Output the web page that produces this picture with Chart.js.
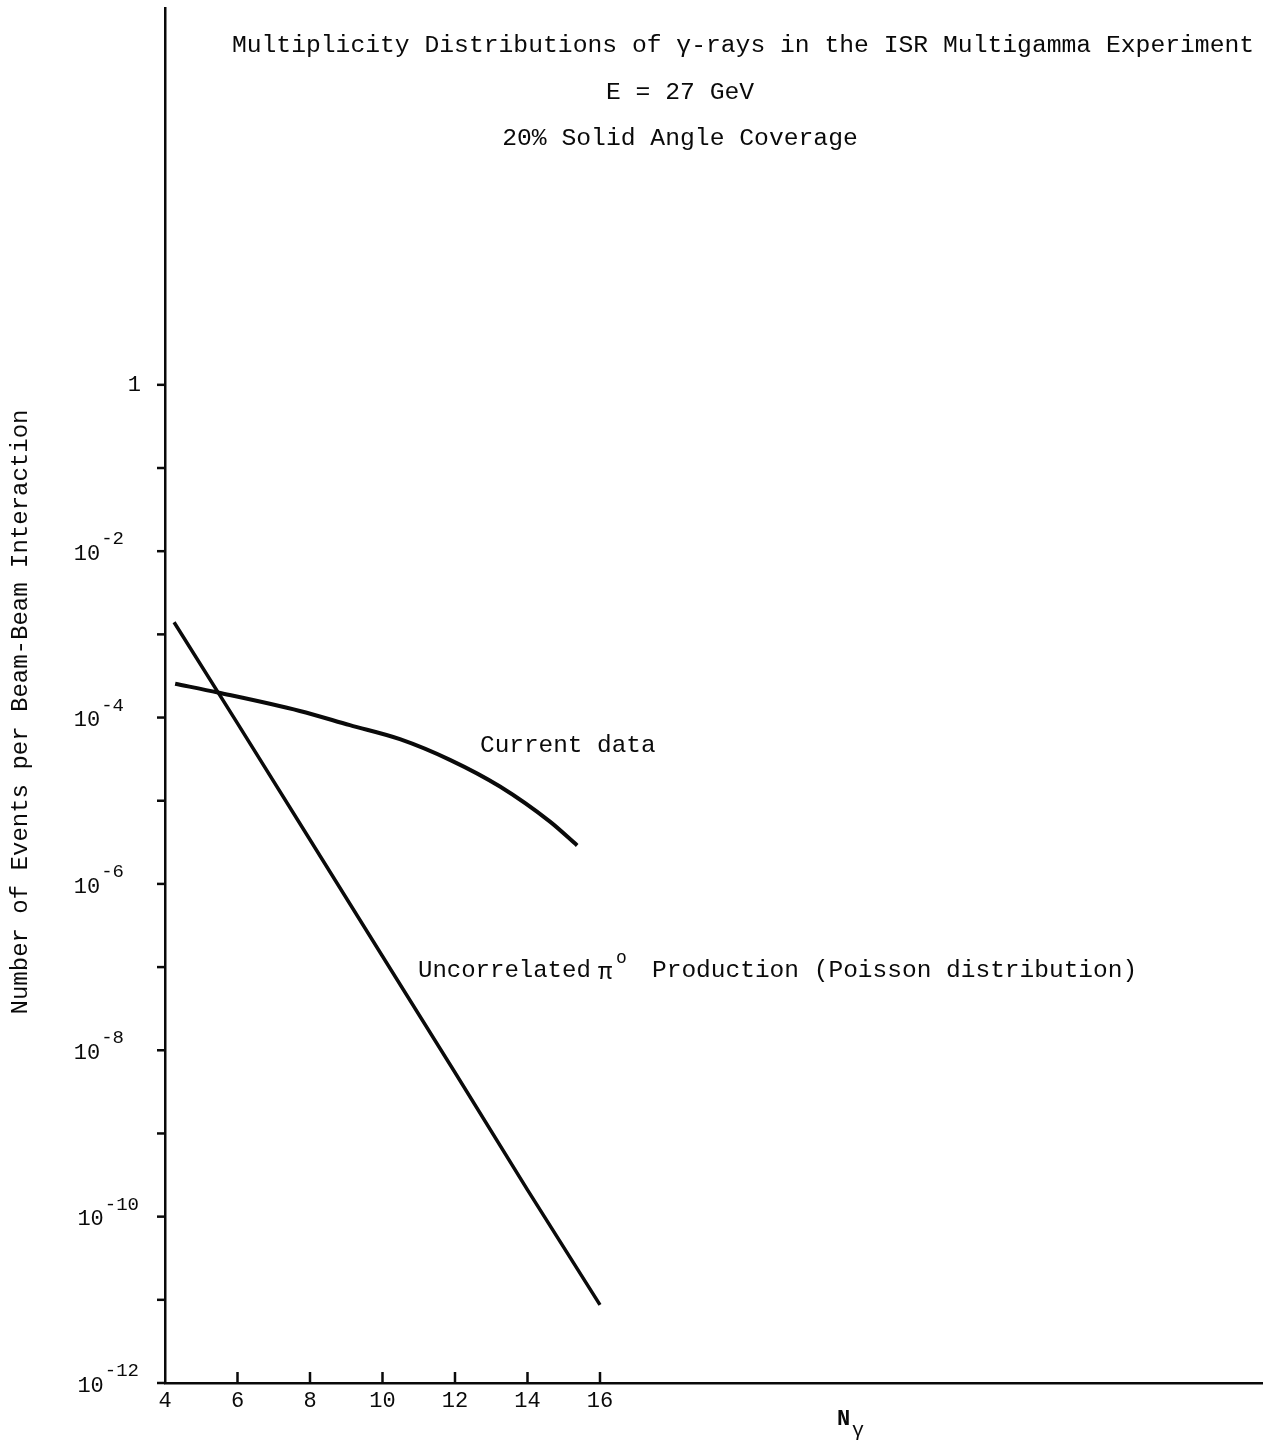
<!DOCTYPE html>
<html>
<head>
<meta charset="utf-8">
<script src="https://cdn.jsdelivr.net/npm/chart.js@4/dist/chart.umd.min.js"></script>
<style>
  body { margin: 0; background: #fff; }
  #wrap { position: relative; width: 1263px; height: 1442px; }
</style>
</head>
<body>
<div id="wrap"><canvas id="grafico"></canvas></div>
<script>
// datos
var currentN = [4.28, 5.46, 7.72, 9.10, 10.48, 11.86, 13.24, 14.62, 15.37];
var currentVal = [2.55e-4, 2.0e-4, 1.2e-4, 8.1e-5, 5.5e-5, 3.1e-5, 1.48e-5, 5.6e-6, 2.9e-6];

var poissonN = [4.25, 6, 8, 10, 12, 14, 16];
var poissonVal = [1.4e-3, 8.5e-5, 3.4e-6, 1.35e-7, 5.4e-9, 2.1e-10, 8.7e-12];

var xTicks = [4, 6, 8, 10, 12, 14, 16];
var yMajorExp = [0, -2, -4, -6, -8, -10, -12];
var yMinorExp = [-1, -3, -5, -7, -9, -11];

var titleLines = [
  "Multiplicity Distributions of \u03b3-rays in the ISR Multigamma Experiment",
  "E = 27 GeV",
  "20% Solid Angle Coverage"
];

var MONO = '"Liberation Mono", "DejaVu Sans Mono", monospace';
var INK = '#0a0a0a';

function pares(xs, ys) {
  var out = [];
  for (var i = 0; i < xs.length; i++) out.push({x: xs[i], y: ys[i]});
  return out;
}

// textos y marcas de los ejes
var textos = {
  id: 'textos',
  afterDraw: function(chart) {
    var ctx = chart.ctx;
    var xs = chart.scales.x, ys = chart.scales.y;
    var area = chart.chartArea;
    ctx.save();
    ctx.strokeStyle = INK;
    ctx.fillStyle = INK;
    ctx.lineWidth = 2.5;

    // marcas eje y (hacia fuera)
    yMajorExp.concat(yMinorExp).forEach(function(e) {
      var py = ys.getPixelForValue(Math.pow(10, e));
      ctx.beginPath();
      ctx.moveTo(area.left - 8, py);
      ctx.lineTo(area.left, py);
      ctx.stroke();
    });
    // marcas eje x (hacia dentro)
    xTicks.forEach(function(v) {
      if (v === 4) return;
      var px = xs.getPixelForValue(v);
      ctx.beginPath();
      ctx.moveTo(px, area.bottom);
      ctx.lineTo(px, area.bottom - 11);
      ctx.stroke();
    });

    // etiquetas eje y
    ctx.textBaseline = 'middle';
    yMajorExp.forEach(function(e) {
      var py = ys.getPixelForValue(Math.pow(10, e));
      if (e === 0) {
        ctx.font = '22px ' + MONO;
        ctx.textAlign = 'right';
        ctx.fillText('1', 141, py);
        return;
      }
      var exp = '-' + (-e);
      ctx.font = '19px ' + MONO;
      var wExp = ctx.measureText(exp).width;
      var right = exp.length > 2 ? 139 : 124;
      ctx.textAlign = 'left';
      ctx.fillText(exp, right - wExp, py - 12);
      ctx.font = '22px ' + MONO;
      ctx.textAlign = 'right';
      ctx.fillText('10', right - wExp - 1, py + 3);
    });

    // titulo
    ctx.font = '24.7px ' + MONO;
    ctx.textAlign = 'center';
    ctx.fillText(titleLines[0], 743, 45);
    ctx.fillText(titleLines[1], 680, 92);
    ctx.fillText(titleLines[2], 680, 138);

    // etiquetas de curvas
    ctx.textAlign = 'left';
    ctx.font = '24.4px ' + MONO;
    ctx.fillText('Current data', 480, 746);
    ctx.font = '24px ' + MONO;
    ctx.fillText('Uncorrelated', 418, 971);
    ctx.fillText('\u03c0', 598, 973);
    ctx.font = '18px ' + MONO;
    ctx.fillText('o', 616, 958);
    ctx.font = '24.5px ' + MONO;
    ctx.fillText('Production (Poisson distribution)', 652, 971);

    // titulo eje y
    ctx.save();
    ctx.translate(21, 712);
    ctx.rotate(-Math.PI / 2);
    ctx.textAlign = 'center';
    ctx.font = '24px ' + MONO;
    ctx.fillText('Number of Events per Beam-Beam Interaction', 0, 0);
    ctx.restore();

    // titulo eje x
    ctx.textAlign = 'left';
    ctx.font = 'bold 22px ' + MONO;
    ctx.fillText('N', 837, 1419);
    ctx.font = '20px ' + MONO;
    ctx.fillText('\u03b3', 852, 1431);

    ctx.restore();
  }
};

var canvas = document.getElementById('grafico');
var chart = new Chart(canvas, {
  type: 'line',
  data: {
    datasets: [
      {
        label: 'Current data',
        data: pares(currentN, currentVal),
        borderColor: INK,
        borderWidth: 4,
        pointRadius: 0,
        cubicInterpolationMode: 'monotone',
        fill: false
      },
      {
        label: 'Uncorrelated pi0 Production (Poisson distribution)',
        data: pares(poissonN, poissonVal),
        borderColor: INK,
        borderWidth: 3.5,
        pointRadius: 0,
        tension: 0,
        fill: false
      }
    ]
  },
  options: {
    responsive: true,
    maintainAspectRatio: false,
    animation: false,
    layout: { padding: { left: 0, right: 0, top: 8, bottom: 0 } },
    plugins: {
      legend: { display: false },
      tooltip: { enabled: false },
      title: { display: false }
    },
    scales: {
      x: {
        type: 'linear',
        min: 4,
        max: 34.29,
        afterBuildTicks: function(scale) {
          scale.ticks = xTicks.map(function(v) { return {value: v}; });
        },
        afterFit: function(scale) { scale.height = 59; },
        ticks: {
          autoSkip: false,
          maxRotation: 0,
          padding: 5,
          color: INK,
          font: { family: MONO, size: 22 }
        },
        grid: { display: false, drawTicks: false },
        border: { display: true, color: INK, width: 2.5 }
      },
      y: {
        type: 'logarithmic',
        min: 1e-12,
        max: 33900,
        afterFit: function(scale) { scale.width = 165; },
        ticks: { display: false },
        grid: { display: false, drawTicks: false },
        border: { display: true, color: INK, width: 2.5 }
      }
    }
  },
  plugins: [textos]
});
</script>
</body>
</html>
